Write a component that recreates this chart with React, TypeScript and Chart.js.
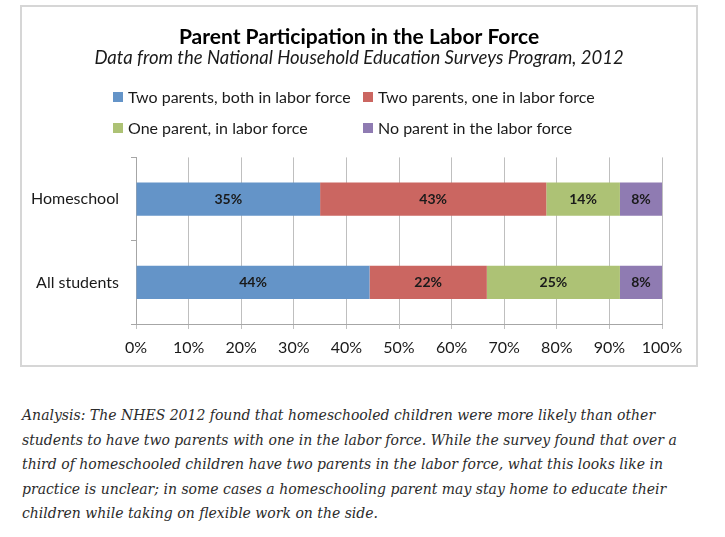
import React, { useEffect, useRef } from "react";
import { Chart, registerables } from "chart.js";

Chart.register(...registerables);

const categories = ["Homeschool", "All students"];
const seriesLabels = [
  "Two parents, both in labor force",
  "Two parents, one in labor force",
  "One parent, in labor force",
  "No parent in the labor force",
];
const bothInLabor = [35, 44.4];
const oneInLabor = [43, 22.3];
const oneParentInLabor = [14, 25.3];
const noParentInLabor = [8, 8];
const seriesColors = ["#6494c8", "#cb6661", "#adc275", "#8f7bb2"];
const xTicks = [0, 10, 20, 30, 40, 50, 60, 70, 80, 90, 100];

const titleText = "Parent Participation in the Labor Force";
const subtitleText = "Data from the National Household Education Surveys Program, 2012";

const analysisLines = [
  "Analysis: The NHES 2012 found that homeschooled children were more likely than other",
  "students to have two parents with one in the labor force. While the survey found that over a",
  "third of homeschooled children have two parents in the labor force, what this looks like in",
  "practice is unclear; in some cases a homeschooling parent may stay home to educate their",
  "children while taking on flexible work on the side.",
];

const FONT = "Lato, 'Open Sans', sans-serif";

const legendPlugin = {
  id: "gridLegend",
  afterDraw(chart: any) {
    const ctx = chart.ctx;
    const colX = [91, 341];
    const rowY = [90, 121];
    ctx.save();
    ctx.font = `16px ${FONT}`;
    ctx.textBaseline = "middle";
    ctx.textAlign = "left";
    chart.data.datasets.forEach((ds: any, i: number) => {
      const x = colX[i % 2];
      const y = rowY[Math.floor(i / 2)];
      ctx.fillStyle = ds.backgroundColor;
      ctx.fillRect(x, y - 5, 10, 10);
      ctx.fillStyle = "#1a1a1a";
      ctx.fillText(ds.label, x + 15, y + 1);
    });
    ctx.restore();
  },
};

const valueLabelPlugin = {
  id: "valueLabels",
  afterDatasetsDraw(chart: any) {
    const ctx = chart.ctx;
    ctx.save();
    ctx.font = `bold 14px ${FONT}`;
    ctx.fillStyle = "#1a1a1a";
    ctx.textAlign = "center";
    ctx.textBaseline = "middle";
    chart.data.datasets.forEach((ds: any, i: number) => {
      const meta = chart.getDatasetMeta(i);
      meta.data.forEach((el: any, j: number) => {
        const p = el.getCenterPoint();
        ctx.fillText(Math.round(ds.data[j]) + "%", p.x, p.y);
      });
    });
    ctx.restore();
  },
};

function ChartBox() {
  const ref = useRef<HTMLCanvasElement | null>(null);
  useEffect(() => {
    if (!ref.current) return;
    const values = [bothInLabor, oneInLabor, oneParentInLabor, noParentInLabor];
    const chart = new Chart(ref.current, {
      type: "bar",
      data: {
        labels: categories,
        datasets: values.map((v, i) => ({
          label: seriesLabels[i],
          data: v,
          backgroundColor: seriesColors[i],
          borderWidth: 0,
          barPercentage: 0.4,
          categoryPercentage: 1,
        })),
      },
      plugins: [legendPlugin, valueLabelPlugin],
      options: {
        indexAxis: "y",
        responsive: false,
        animation: false,
        layout: { padding: 0 },
        plugins: {
          legend: { display: false },
          tooltip: { enabled: false },
          title: {
            display: true,
            text: titleText,
            color: "#000",
            font: { family: FONT, size: 21, weight: "bold", lineHeight: 1.05 },
            padding: { top: 19, bottom: 0 },
          },
          subtitle: {
            display: true,
            text: subtitleText,
            color: "#1a1a1a",
            font: { family: FONT, size: 18.5, style: "italic", lineHeight: 1.1 },
            padding: { top: 0, bottom: 89 },
          },
        },
        scales: {
          x: {
            stacked: true,
            min: 0,
            max: 100,
            afterFit(scale: any) {
              scale.height = 41;
            },
            afterBuildTicks(scale: any) {
              scale.ticks = xTicks.map((v) => ({ value: v }));
            },
            ticks: {
              color: "#1a1a1a",
              font: { family: FONT, size: 16 },
              padding: 9,
              maxRotation: 0,
              callback: (v: any) => v + "%",
            },
            grid: { color: "#bfbfbf", tickLength: 5, drawTicks: true },
            border: { display: true, color: "#a6a6a6" },
          },
          y: {
            stacked: true,
            afterFit(scale: any) {
              scale.width = 114;
            },
            ticks: {
              color: "#1a1a1a",
              font: { family: FONT, size: 16 },
              padding: 12,
            },
            grid: {
              drawOnChartArea: false,
              drawTicks: true,
              tickLength: 5,
              offset: true,
              color: "#a6a6a6",
            },
            border: { display: true, color: "#a6a6a6" },
          },
          yRightSpace: {
            type: "category",
            position: "right",
            afterFit(scale: any) {
              scale.width = 34;
            },
            ticks: { display: false },
            grid: { display: false, drawTicks: false },
            border: { display: false },
          },
        },
      } as any,
    });
    return () => chart.destroy();
  }, []);
  return (
    <canvas
      ref={ref}
      width={674}
      height={358}
      style={{ position: "absolute", left: 22, top: 7, width: 674, height: 358 }}
    />
  );
}

export default function App() {
  return (
    <div
      style={{
        position: "absolute",
        left: 0,
        top: 0,
        width: 725,
        height: 537,
        background: "#fff",
        overflow: "hidden",
      }}
    >
      <div
        style={{
          position: "absolute",
          left: 20,
          top: 5,
          width: 678,
          height: 362,
          border: "2px solid #d6d6d6",
          boxSizing: "border-box",
        }}
      />
      <ChartBox />
      <div
        style={{
          position: "absolute",
          left: 22,
          top: 403,
          fontFamily: "'DejaVu Serif', serif",
          fontStyle: "italic",
          fontSize: 14,
          lineHeight: "24.5px",
          color: "#2b2b2b",
        }}
      >
        {analysisLines.map((l, i) => (
          <div key={i} style={{ whiteSpace: "nowrap" }}>
            {l}
          </div>
        ))}
      </div>
    </div>
  );
}
